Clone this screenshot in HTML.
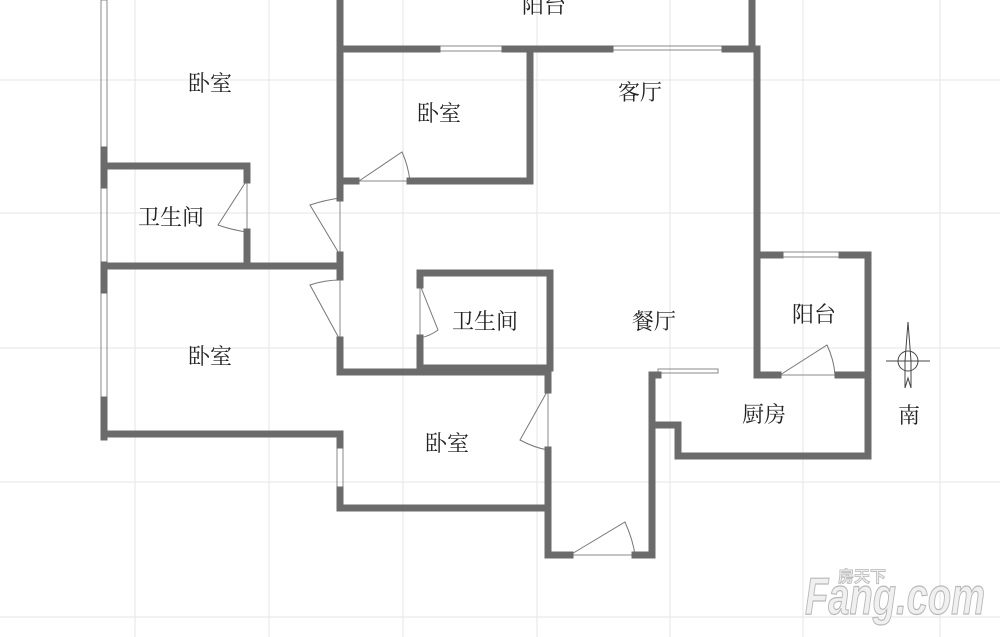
<!DOCTYPE html>
<html><head><meta charset="utf-8"><style>
html,body{margin:0;padding:0;background:#fff}
svg{display:block}
text{font-family:"Liberation Serif","Noto Serif CJK SC","Noto Sans CJK SC",serif;font-size:22px;fill:#222}
</style></head><body>
<svg width="1000" height="637" viewBox="0 0 1000 637" xmlns="http://www.w3.org/2000/svg">
<g stroke="#e6e6e6" stroke-width="1">
<line x1="135" y1="0" x2="135" y2="637"/><line x1="269" y1="0" x2="269" y2="637"/><line x1="403" y1="0" x2="403" y2="637"/><line x1="537" y1="0" x2="537" y2="637"/><line x1="670" y1="0" x2="670" y2="637"/><line x1="803" y1="0" x2="803" y2="637"/><line x1="940" y1="0" x2="940" y2="637"/>
<line x1="0" y1="80" x2="1000" y2="80"/><line x1="0" y1="213" x2="1000" y2="213"/><line x1="0" y1="348" x2="1000" y2="348"/><line x1="0" y1="482" x2="1000" y2="482"/><line x1="0" y1="617" x2="1000" y2="617"/>
</g>
<g stroke="#888" stroke-width="1" fill="none">
<rect x="101" y="0" width="6" height="150"/><rect x="101" y="185" width="6" height="80"/><rect x="101" y="290" width="6" height="110"/>
<rect x="437" y="46" width="68" height="5"/><rect x="556" y="46" width="170" height="4"/>
<rect x="780" y="252" width="62" height="5"/><rect x="337" y="445" width="6" height="45"/>
<rect x="658" y="369" width="60" height="4"/>
<line x1="356" y1="181" x2="410" y2="181"/><line x1="340" y1="198" x2="340" y2="255"/><line x1="340" y1="280" x2="340" y2="340"/>
<line x1="247" y1="180" x2="247" y2="232"/><line x1="420" y1="285" x2="420" y2="338"/><line x1="548" y1="390" x2="548" y2="450"/>
<line x1="570" y1="555" x2="635" y2="555"/><line x1="778" y1="375" x2="835" y2="375"/>
</g>
<g stroke="#777" stroke-width="1" fill="none">
<path d="M359 181 L402 152 Q408 165 410 181"/>
<path d="M247 180 L218 225 Q232 230 247 232"/>
<path d="M340 255 L310 205 Q325 200 340 198"/>
<path d="M340 340 L310 285 Q325 280 340 280"/>
<path d="M420 285 L438 330 Q430 336 420 338"/>
<path d="M548 390 L520 440 Q535 448 548 450"/>
<path d="M570 555 L625 522 Q633 540 635 555"/>
<path d="M780 375 L827 345 Q834 360 835 375"/>
</g>
<g stroke="#6b6b6b" stroke-width="7" fill="none" stroke-linecap="square">
<line x1="340" y1="0" x2="340" y2="198"/><line x1="340" y1="49" x2="437" y2="49"/><line x1="505" y1="49" x2="610" y2="49"/><line x1="725" y1="49" x2="752" y2="49"/><line x1="752" y1="0" x2="752" y2="49"/>
<polyline points="530,49 530,181 410,181"/><line x1="340" y1="181" x2="356" y2="181"/>
<line x1="104" y1="150" x2="104" y2="185"/><line x1="104" y1="265" x2="104" y2="290"/><line x1="104" y1="400" x2="104" y2="437"/>
<polyline points="104,166 247,166 247,180"/><line x1="247" y1="232" x2="247" y2="266"/>
<line x1="104" y1="266" x2="340" y2="266"/><line x1="340" y1="255" x2="340" y2="277"/>
<polyline points="104,434 340,434 340,445"/><line x1="340" y1="340" x2="340" y2="372"/>
<polyline points="340,490 340,508 548,508 548,555 570,555"/>
<polyline points="340,372 548,372 548,390"/><line x1="548" y1="450" x2="548" y2="508"/>
<polyline points="420,285 420,273 550,273 550,368 420,368 420,338"/>
<polyline points="635,555 652,555 652,375 658,375"/><polyline points="652,425 678,425 678,456 868,456 868,255 842,255"/>
<polyline points="757,49 757,375 778,375"/><line x1="757" y1="255" x2="780" y2="255"/>
<line x1="838" y1="375" x2="868" y2="375"/>
</g>
<text x="188" y="91">卧室</text><text x="417" y="121">卧室</text><text x="618" y="100">客厅</text>
<text x="138" y="225">卫生间</text><text x="452" y="329">卫生间</text><text x="632" y="329">餐厅</text>
<text x="792" y="322">阳台</text><text x="188" y="364">卧室</text><text x="425" y="451">卧室</text>
<text x="742" y="422">厨房</text><text x="898" y="423">南</text><text x="522" y="13">阳台</text>
<g stroke="#444" stroke-width="1" fill="none">
<line x1="886" y1="361" x2="930" y2="361"/><circle cx="908" cy="361" r="10"/>
<path d="M908 322 L911 361 L911 388 L908 378 L905 388 L905 361 Z"/>
</g>
<text x="805" y="614" style="font-family:'Liberation Sans',sans-serif;font-size:52px;font-weight:bold;font-style:italic;fill:#f0f0f0;stroke:#b8b8b8;stroke-width:1.2" textLength="180" lengthAdjust="spacingAndGlyphs">Fang.com</text>
<text x="838" y="582" style="font-family:'Liberation Sans','Noto Sans CJK SC',sans-serif;font-size:16px;font-weight:bold;fill:#f0f0f0;stroke:#b8b8b8;stroke-width:0.8">房天下</text>
</svg>
</body></html>
